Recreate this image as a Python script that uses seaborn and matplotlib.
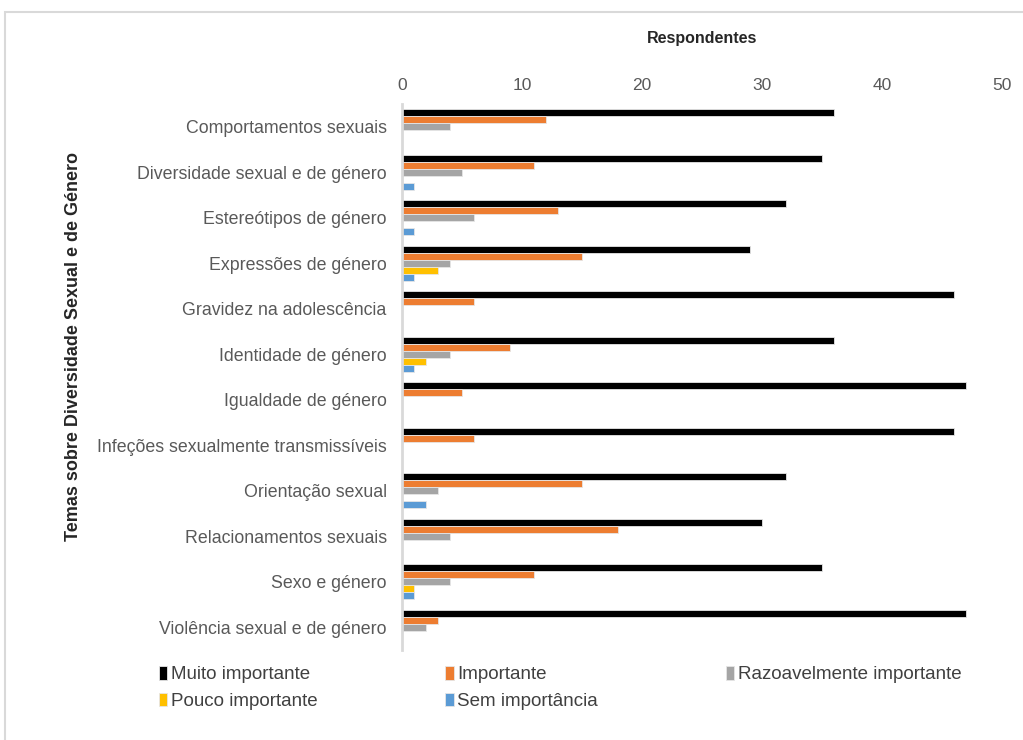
import matplotlib
matplotlib.use("Agg")
import matplotlib.pyplot as plt
import seaborn as sns
import pandas as pd
from matplotlib.patches import Rectangle

# dados
temas = ["Comportamentos sexuais", "Diversidade sexual e de género",
         "Estereótipos de género", "Expressões de género",
         "Gravidez na adolescência", "Identidade de género",
         "Igualdade de género", "Infeções sexualmente transmissíveis",
         "Orientação sexual", "Relacionamentos sexuais",
         "Sexo e género", "Violência sexual e de género"]
niveis = ["Muito importante", "Importante", "Razoavelmente importante",
          "Pouco importante", "Sem importância"]
muito = [36, 35, 32, 29, 46, 36, 47, 46, 32, 30, 35, 47]
importante = [12, 11, 13, 15, 6, 9, 5, 6, 15, 18, 11, 3]
razoavel = [4, 5, 6, 4, 0, 4, 0, 0, 3, 4, 4, 2]
pouco = [0, 0, 0, 3, 0, 2, 0, 0, 0, 0, 1, 0]
sem = [0, 1, 1, 1, 0, 1, 0, 0, 2, 0, 1, 0]
cores = ["#000000", "#ED7D31", "#A5A5A5", "#FFC000", "#5B9BD5"]

df = pd.DataFrame({"Tema": temas, niveis[0]: muito, niveis[1]: importante,
                   niveis[2]: razoavel, niveis[3]: pouco, niveis[4]: sem})
df = df.melt(id_vars="Tema", var_name="Nivel", value_name="Respondentes")

sns.set_style("white")
plt.rcParams['font.family'] = ['Liberation Sans', 'DejaVu Sans']

fig = plt.figure(figsize=(10.23, 7.40), dpi=100)
ax = fig.add_axes([402 / 1023, 1 - 650 / 740, 600 / 1023, 546 / 740])

sns.barplot(data=df, y="Tema", x="Respondentes", hue="Nivel",
            order=temas, hue_order=niveis, palette=cores, saturation=1,
            orient="h", width=0.78, ax=ax, edgecolor="#E6E6E6", linewidth=0.6)

ax.set_xlim(0, 50)
ax.set_ylim(len(temas) - 0.5, -0.5)
ax.xaxis.tick_top()
ax.xaxis.set_label_position("top")
ax.set_xticks(range(0, 51, 10))
ax.tick_params(axis="x", length=0, pad=8, labelsize=12.5, labelcolor="#595959")
ax.tick_params(axis="y", length=0, pad=11, labelsize=12.8, labelcolor="#595959")
for lab in ax.get_xticklabels():
    lab.set_family(['Liberation Sans Narrow', 'Liberation Sans'])
ax.set_xlabel("Respondentes", fontsize=11.5, fontweight="bold", labelpad=25)
ax.set_ylabel("Temas sobre Diversidade Sexual e de Género", fontsize=13,
              fontweight="bold", labelpad=0)
ax.yaxis.set_label_coords(-0.533, 0.555)

for s in ["top", "right", "bottom"]:
    ax.spines[s].set_visible(False)
ax.spines["left"].set_color("#D9D9D9")
ax.spines["left"].set_linewidth(2)

# legenda em linhas como no original
h, l = ax.get_legend_handles_labels()
ax.get_legend().remove()
ordem = [0, 3, 1, 4, 2]
fig.legend([h[i] for i in ordem], [l[i] for i in ordem], ncol=3,
           loc="upper left", bbox_to_anchor=(142 / 1023, 1 - 649 / 740),
           frameon=False, fontsize=13.5, handlelength=0.45, handleheight=0.75,
           handletextpad=0.2, columnspacing=6.8, labelspacing=0.5,
           labelcolor="#404040")

# moldura cinza do gráfico
fig.patches.append(Rectangle((5 / 1023, -0.01), 1.02, 1 - 12 / 740 + 0.01,
                             transform=fig.transFigure, fill=False,
                             edgecolor="#D9D9D9", linewidth=1.5))

fig.savefig("out.png", dpi=100)
